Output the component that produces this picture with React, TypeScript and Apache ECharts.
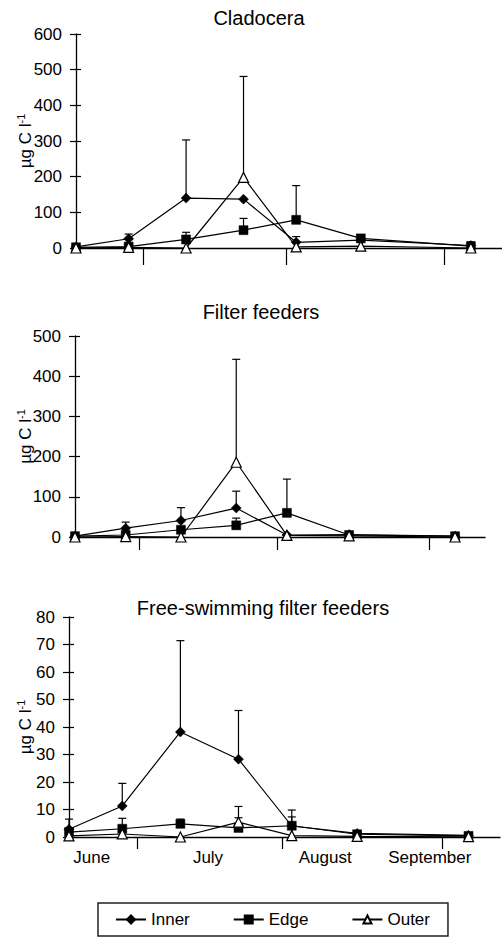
import React, { useEffect, useRef } from "react";
import * as echarts from "echarts";

// Sampling dates, in days counted from 1 June
const sampleDay = [16, 27, 39, 51, 62, 75.5, 98.5];
const monthTickDay = [30, 60, 93];
const monthLabelDay = [20.7, 44.7, 68.9, 90.5];
const monthNames = ["June", "July", "August", "September"];

// Cladocera (µg C l-1)
const cladInner = [3, 26, 140, 137, 16, 22, 7];
const cladInnerErr = [null, 39, 303, null, 32, 30, 15];
const cladEdge = [2, 4, 24, 50, 79, 27, 5];
const cladEdgeErr = [null, null, 44, 83, 175, 37, 17];
const cladOuter = [0, 2, 0, 198, 3, 5, 0];
const cladOuterErr = [null, null, null, 481, null, null, null];

// Filter feeders
const filtInner = [2, 22, 41, 72, 5, 6, 2];
const filtInnerErr = [null, 37, 73, 114, null, null, null];
const filtEdge = [2, 5, 18, 29, 60, 5, 2];
const filtEdgeErr = [null, null, null, 47, 144, null, null];
const filtOuter = [0, 1, 0, 186, 4, 3, 0];
const filtOuterErr = [null, null, null, 442, null, null, null];

// Free-swimming filter feeders
const freeInner = [2.8, 11.3, 38.2, 28.3, 4.0, 1.3, 0.6];
const freeInnerErr = [6.5, 19.5, 71.4, 46, 9.8, 2.2, null];
const freeEdge = [1.8, 3.0, 4.8, 3.3, 4.1, 1.0, 0.4];
const freeEdgeErr = [null, 6.8, 6.5, 7.0, 7.3, null, null];
const freeOuter = [0.4, 1.1, 0, 5.4, 0.5, 0.2, 0.1];
const freeOuterErr = [null, 3.0, null, 11.1, null, null, null];

const FONT = "'Liberation Sans', Arial, Helvetica, sans-serif";

const panels = [
  {
    title: "Cladocera",
    inner: cladInner, innerErr: cladInnerErr,
    edge: cladEdge, edgeErr: cladEdgeErr,
    outer: cladOuter, outerErr: cladOuterErr,
    max: 600, interval: 100,
    grid: { left: 76, top: 34, width: 426, height: 214 },
    titleX: 259, titleY: 18, tickLen: 17, nameGap: 41, showMonths: false,
  },
  {
    title: "Filter feeders",
    inner: filtInner, innerErr: filtInnerErr,
    edge: filtEdge, edgeErr: filtEdgeErr,
    outer: filtOuter, outerErr: filtOuterErr,
    max: 500, interval: 100,
    grid: { left: 75, top: 336, width: 410, height: 201 },
    titleX: 261, titleY: 312, tickLen: 13, nameGap: 40, showMonths: false,
  },
  {
    title: "Free-swimming filter feeders",
    inner: freeInner, innerErr: freeInnerErr,
    edge: freeEdge, edgeErr: freeEdgeErr,
    outer: freeOuter, outerErr: freeOuterErr,
    max: 80, interval: 10,
    grid: { left: 69, top: 617, width: 431, height: 220 },
    titleX: 263, titleY: 608, tickLen: 12, nameGap: 34, showMonths: true,
  },
];

const pairs = (vals: number[]) => sampleDay.map((d, i) => [d, vals[i]]);
const errTriples = (vals: number[], tops: (number | null)[]) =>
  sampleDay
    .map((d, i) => (tops[i] == null ? null : [d, vals[i], tops[i]]))
    .filter((v) => v != null);

function buildOption() {
  const grid: any[] = [];
  const xAxis: any[] = [];
  const yAxis: any[] = [];
  const series: any[] = [];
  const graphic: any[] = [];

  panels.forEach((p, gi) => {
    grid.push({ ...p.grid, containLabel: false, outerBoundsMode: "none" });
    xAxis.push({
      type: "value",
      gridIndex: gi,
      min: 16,
      max: 105,
      splitLine: { show: false },
      axisLine: { show: true, onZero: false, lineStyle: { color: "#000", width: 1.3 } },
      axisTick: {
        show: true,
        customValues: monthTickDay,
        length: p.tickLen,
        lineStyle: { color: "#000", width: 1.2 },
      },
      axisLabel: p.showMonths
        ? {
            show: true,
            customValues: monthLabelDay,
            formatter: (v: number) => {
              let best = 0;
              monthLabelDay.forEach((m, i) => {
                if (Math.abs(m - v) < Math.abs(monthLabelDay[best] - v)) best = i;
              });
              return monthNames[best];
            },
            fontSize: 17,
            color: "#000",
            fontFamily: FONT,
            margin: 12,
          }
        : { show: false },
    });
    yAxis.push({
      type: "value",
      gridIndex: gi,
      position: "left",
      min: 0,
      max: p.max,
      interval: p.interval,
      splitLine: { show: false },
      axisLine: { show: true, lineStyle: { color: "#000", width: 1.3 } },
      axisTick: { show: true, inside: false, length: 6, lineStyle: { color: "#000", width: 1.2 } },
      axisLabel: { fontSize: 17, color: "#000", fontFamily: FONT, margin: 14 },
      name: "µg C l{sup|-1}",
      nameLocation: "middle",
      nameGap: p.nameGap,
      nameMoveOverlap: false,
      nameTextStyle: {
        fontSize: 17,
        color: "#000",
        fontFamily: FONT,
        rich: {
          sup: { fontSize: 11, color: "#000", fontFamily: FONT, verticalAlign: "top", lineHeight: 20 },
        },
      },
    });
    yAxis.push({
      type: "value",
      gridIndex: gi,
      position: "left",
      offset: 0,
      min: 0,
      max: p.max,
      interval: p.interval,
      splitLine: { show: false },
      axisLine: { show: false },
      axisTick: { show: true, inside: true, length: 5, lineStyle: { color: "#000", width: 1.2 } },
      axisLabel: { show: false },
    });

    const yIdx = gi * 2;
    const errData = [
      ...errTriples(p.inner, p.innerErr),
      ...errTriples(p.edge, p.edgeErr),
      ...errTriples(p.outer, p.outerErr),
    ];
    series.push({
      type: "custom",
      xAxisIndex: gi,
      yAxisIndex: yIdx,
      silent: true,
      z: 1,
      encode: { x: 0, y: [1, 2] },
      data: errData,
      renderItem: (params: any, api: any) => {
        const base = api.coord([api.value(0), api.value(1)]);
        const top = api.coord([api.value(0), api.value(2)]);
        const st = { stroke: "#000", lineWidth: 1.2, fill: null };
        return {
          type: "group",
          children: [
            { type: "line", shape: { x1: base[0], y1: base[1], x2: top[0], y2: top[1] }, style: st },
            { type: "line", shape: { x1: top[0] - 4, y1: top[1], x2: top[0] + 4, y2: top[1] }, style: st },
          ],
        };
      },
    });

    const common = {
      type: "line",
      xAxisIndex: gi,
      yAxisIndex: yIdx,
      z: 3,
      lineStyle: { color: "#000", width: 1.2 },
      emphasis: { disabled: true },
    };
    series.push({
      ...common,
      name: "Inner",
      data: pairs(p.inner),
      symbol: "diamond",
      symbolSize: 10,
      itemStyle: { color: "#000", borderColor: "#000", borderWidth: 0.5 },
    });
    series.push({
      ...common,
      name: "Edge",
      data: pairs(p.edge),
      symbol: "rect",
      symbolSize: 9,
      itemStyle: { color: "#000", borderColor: "#000", borderWidth: 0.5 },
    });
    series.push({
      ...common,
      name: "Outer",
      data: pairs(p.outer),
      symbol: "triangle",
      symbolSize: 10,
      itemStyle: { color: "#fff", borderColor: "#000", borderWidth: 1.2 },
    });

    graphic.push({
      type: "text",
      x: p.titleX,
      y: p.titleY,
      style: {
        text: p.title,
        fontSize: 20,
        fontFamily: FONT,
        fill: "#000",
        align: "center",
        verticalAlign: "middle",
        textAlign: "center",
        textVerticalAlign: "middle",
      },
    });
  });

  return {
    animation: false,
    backgroundColor: "#fff",
    grid,
    xAxis,
    yAxis,
    series,
    graphic,
    legend: {
      data: ["Inner", "Edge", "Outer"],
      left: 98,
      top: 903,
      orient: "horizontal",
      borderColor: "#222",
      borderWidth: 1.5,
      padding: [8, 18, 8, 17],
      itemGap: 43,
      itemWidth: 30,
      itemHeight: 10,
      selectedMode: false,
      textStyle: { fontSize: 17, color: "#000", fontFamily: FONT },
    },
  };
}

export default function App() {
  const ref = useRef<HTMLDivElement>(null);
  useEffect(() => {
    if (!ref.current) return;
    const chart = echarts.init(ref.current, null, { renderer: "svg" });
    chart.setOption(buildOption() as any);
    return () => chart.dispose();
  }, []);
  return (
    <div
      ref={ref}
      style={{ position: "fixed", left: 0, top: 0, width: 502, height: 939, background: "#fff" }}
    />
  );
}
